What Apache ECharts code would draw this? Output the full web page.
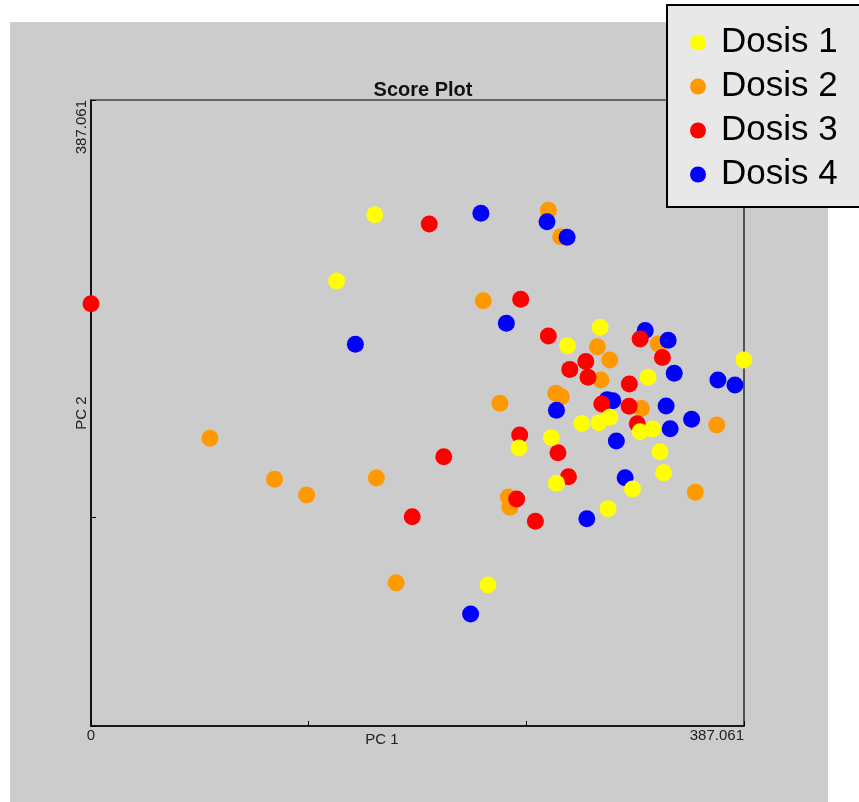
<!DOCTYPE html>
<html>
<head>
<meta charset="utf-8">
<script src="https://cdn.jsdelivr.net/npm/echarts@6/dist/echarts.min.js"></script>
<style>
  html, body { margin: 0; padding: 0; background: #ffffff; }
  #chart { width: 859px; height: 802px; }
</style>
</head>
<body>
<div id="chart"></div>
<script>
const AXIS_MAX = 387.061;
const chartTitle = "Score Plot";
const xName = "PC 1";
const yName = "PC 2";
const seriesNames = ["Dosis 1", "Dosis 2", "Dosis 3", "Dosis 4"];
const seriesColors = ["#ffff00", "#ff9900", "#ff0000", "#0000ff"];

const dosis1 = [
  [168.2, 316.1], [145.6, 275.1], [301.8, 246.5], [282.4, 235.1], [387.0, 226.3],
  [330.2, 215.6], [290.9, 187.0], [301.0, 187.5], [307.5, 190.9], [325.5, 182.0],
  [332.9, 183.6], [272.9, 178.3], [253.7, 171.9], [337.2, 169.6], [339.4, 156.6],
  [275.9, 150.1], [321.0, 146.5], [306.5, 134.4], [235.3, 87.2]
];
const dosis2 = [
  [271.1, 318.9], [278.4, 302.5], [232.5, 263.0], [300.2, 234.5], [336.2, 236.2],
  [307.5, 226.3], [302.2, 213.9], [275.5, 205.7], [278.8, 203.6], [242.4, 199.5],
  [326.2, 196.3], [370.9, 186.1], [358.2, 144.5], [247.4, 141.6], [248.3, 135.2],
  [70.5, 177.9], [108.8, 152.5], [127.8, 142.8], [169.2, 153.3], [180.9, 88.6]
];
const dosis3 = [
  [0.0, 261.1], [200.5, 310.4], [254.7, 263.8], [271.1, 241.1], [325.5, 239.3],
  [293.3, 225.4], [338.7, 227.8], [283.8, 220.5], [294.6, 215.6], [319.1, 211.5],
  [302.8, 199.1], [319.0, 197.7], [323.8, 186.9], [254.1, 179.9], [276.8, 169.0],
  [283.0, 154.1], [252.3, 140.4], [263.4, 126.6], [209.1, 166.5], [190.4, 129.4]
];
const dosis4 = [
  [231.1, 317.0], [270.3, 311.8], [282.2, 302.2], [246.2, 249.0], [156.7, 236.0],
  [328.5, 244.5], [342.1, 238.5], [345.7, 218.1], [371.6, 213.9], [381.7, 210.8],
  [306.0, 201.8], [309.3, 201.1], [340.9, 197.9], [275.9, 195.2], [356.0, 189.6],
  [343.3, 183.8], [311.4, 176.2], [316.6, 153.5], [293.9, 128.2], [225.0, 69.3]
];
const seriesData = [dosis1, dosis2, dosis3, dosis4];
const seriesZ = [6, 3, 5, 4];

const FONT = "Liberation Sans, Arial, sans-serif";
const chart = echarts.init(document.getElementById('chart'), null, { renderer: 'canvas' });

const fmt = function (v) {
  if (Math.abs(v - AXIS_MAX) < 1e-6) return String(AXIS_MAX);
  if (v === 0) return '0';
  return '';
};

chart.setOption({
  backgroundColor: '#ffffff',
  animation: false,
  graphic: {
    elements: [{
      type: 'rect', z: -10, silent: true,
      shape: { x: 10, y: 22, width: 818, height: 780 },
      style: { fill: '#cccccc' }
    }]
  },
  title: {
    text: chartTitle,
    left: 418, top: 75, textAlign: 'center',
    textStyle: { fontFamily: FONT, fontSize: 20, fontWeight: 'bold', color: '#111' }
  },
  legend: {
    orient: 'vertical',
    left: 667, top: 5,
    padding: [20, 40, 15, 23],
    itemGap: 9,
    itemWidth: 16, itemHeight: 16,
    icon: 'circle',
    backgroundColor: '#e8e8e8',
    borderColor: '#000', borderWidth: 2,
    textStyle: { fontFamily: FONT, fontSize: 35, lineHeight: 35, color: '#000', padding: [0, 0, 0, 10] },
    data: seriesNames
  },
  grid: {
    left: 91, top: 100, right: 115, bottom: 76,
    show: true, borderColor: '#000', borderWidth: 1.2, backgroundColor: 'transparent'
  },
  xAxis: {
    type: 'value', min: 0, max: AXIS_MAX, interval: AXIS_MAX / 3,
    name: xName, nameLocation: 'middle', nameGap: 6, nameMoveOverlap: false,
    nameTextStyle: { fontFamily: FONT, fontSize: 15, color: '#222', verticalAlign: 'top', padding: [0, 71, 0, 0] },
    axisLine: { show: true, lineStyle: { color: '#000', width: 1.5 } },
    axisTick: { show: true, inside: true, length: 5, lineStyle: { color: '#000' } },
    splitLine: { show: false },
    axisLabel: {
      formatter: fmt, margin: 2, fontFamily: FONT, fontSize: 15, color: '#222',
      alignMaxLabel: 'right', showMinLabel: true, showMaxLabel: true
    }
  },
  yAxis: {
    type: 'value', min: 0, max: AXIS_MAX, interval: AXIS_MAX / 3,
    name: yName, nameLocation: 'middle', nameGap: 2, nameRotate: 90, nameMoveOverlap: false,
    nameTextStyle: { fontFamily: FONT, fontSize: 15, color: '#222' },
    axisLine: { show: true, lineStyle: { color: '#000', width: 1.5 } },
    axisTick: { show: true, inside: true, length: 5, lineStyle: { color: '#000' } },
    splitLine: { show: false },
    axisLabel: {
      formatter: function (v) { return v === 0 ? '' : fmt(v); },
      rotate: 90, margin: 2, fontFamily: FONT, fontSize: 15, color: '#222',
      alignMaxLabel: 'right', showMaxLabel: true
    }
  },
  series: seriesNames.map(function (name, i) {
    return {
      name: name,
      type: 'scatter',
      symbol: 'circle',
      symbolSize: 17,
      z: seriesZ[i],
      itemStyle: { color: seriesColors[i], opacity: 1 },
      data: seriesData[i]
    };
  })
});
</script>
</body>
</html>
